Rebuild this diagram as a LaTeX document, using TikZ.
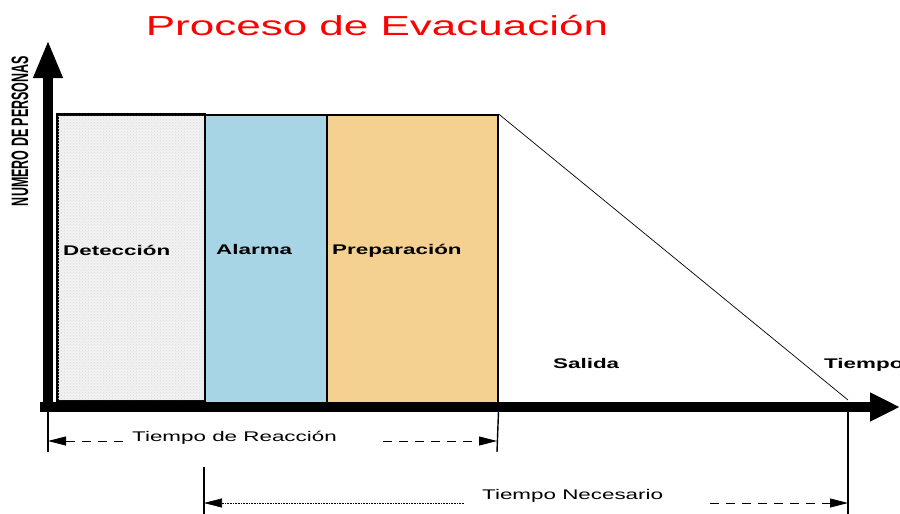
\documentclass[tikz,border=0pt]{standalone}
\usepackage{fontspec}
\setmainfont{Liberation Sans}
\usepackage{graphicx}
\usetikzlibrary{arrows.meta,positioning,patterns}
\definecolor{alarmblue}{RGB}{168,213,229}
\definecolor{prepsand}{RGB}{245,209,145}
\definecolor{titlered}{RGB}{255,0,0}
\newcommand{\wide}[1]{\scalebox{1.6}[1]{#1}}

\begin{document}
\begin{tikzpicture}[x=1pt, y=-1pt,
    phase/.style={draw, line width=1.6pt, inner sep=0pt, anchor=north west},
    lbl/.style={anchor=base west, inner sep=0pt, font=\fontsize{14}{16}\selectfont\bfseries},
    dimtxt/.style={anchor=base west, inner sep=0pt, font=\fontsize{14}{16}\selectfont},
    axis/.style={line width=10pt},
    tick/.style={line width=1.4pt},
    dimline/.style={line width=0.9pt, dash pattern=on 9pt off 7pt},
    ltip/.style={{Triangle[length=18pt,width=9pt]}-},
    rtip/.style={-{Triangle[length=18pt,width=9pt]}}
  ]
  \useasboundingbox (0,0) rectangle (900,514);

  % phases
  \node[phase, fill=black!5, minimum width=147pt, minimum height=286pt] (det) at (57,114) {};
  \fill[pattern=crosshatch dots, pattern color=black!14]
    (det.north west) rectangle (det.south east);
  \draw[line width=1.6pt] (det.north west) rectangle (det.south east);
  \node[phase, fill=alarmblue, minimum width=122pt, minimum height=293pt] (ala) at (204,114) {};
  \node[phase, fill=prepsand, minimum width=171pt, minimum height=293pt] (pre) at (326,114) {};

  \coordinate (salEnd) at (848,400);
  \draw[line width=0.7pt] (pre.north east) -- (salEnd);

  % phase labels
  \foreach \n/\x/\y/\t in {tdet/63/255/Detección, tala/216/254/Alarma,
                           tpre/332/254/Preparación, tsal/553/368/Salida,
                           ttie/824/368/Tiempo}{
    \node[lbl] (\n) at (\x,\y) {\wide{\t}};
  }

  % axes
  \coordinate (xo) at (40,407);
  \coordinate (xend) at (900,407);
  \coordinate (yo) at (48,412);
  \coordinate (yend) at (48,40);
  \draw[axis, -{Triangle[length=30pt,width=27pt]}] (xo) -- (xend);
  \draw[axis, -{Triangle[length=38pt,width=27pt]}] (yo) -- (yend);

  \node[inner sep=0pt, font=\fontsize{12.5}{14}\selectfont\bfseries] (ylab) at (20,131)
    {\scalebox{1.9}[1]{\rotatebox{90}{NUMERO DE PERSONAS}}};

  \node[anchor=base, inner sep=0pt, text=titlered, font=\fontsize{27.5}{30}\selectfont]
    (title) at (377,35) {\wide{Proceso de Evacuación}};

  % tiempo de reaccion
  \coordinate (rL) at (48,441);
  \coordinate (rA) at (129,441);
  \coordinate (rB) at (383,441);
  \coordinate (rR) at (497,441);
  \draw[tick] (48,412) -- (48,452);
  \draw[tick] (pre.south east) -- (497,452);
  \node[dimtxt] (treac) at (132,441) {\wide{Tiempo de Reacción}};
  \draw[dimline, ltip] (rL) -- (rA);
  \draw[dimline, rtip] (rB) -- (rR);

  % tiempo necesario
  \coordinate (nL) at (204,503);
  \coordinate (nA) at (464,503);
  \coordinate (nB) at (710,503);
  \coordinate (nR) at (848,503);
  \draw[tick] (204,467) -- (204,514);
  \draw[tick] (salEnd |- xo) -- (848,514);
  \node[dimtxt] (tnec) at (482,499) {\wide{Tiempo Necesario}};
  \draw[line width=0.6pt, densely dotted, ltip] (nL) -- (nA);
  \draw[dimline, rtip] (nB) -- (nR);
\end{tikzpicture}
\end{document}
